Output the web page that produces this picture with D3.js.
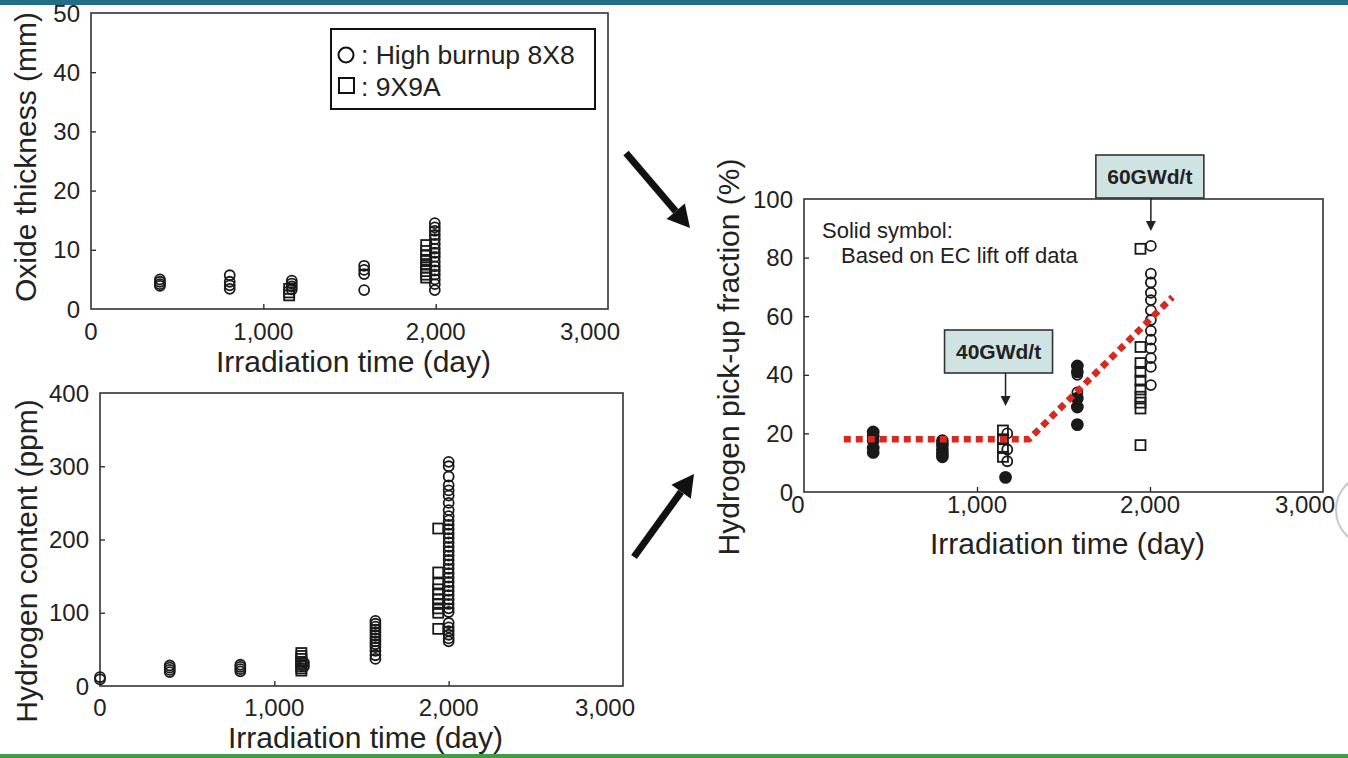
<!DOCTYPE html>
<html>
<head>
<meta charset="utf-8">
<title>Oxide thickness, hydrogen content and pick-up fraction</title>
<script src="https://cdnjs.cloudflare.com/ajax/libs/d3/7.8.5/d3.min.js"></script>
<style>
  body { margin: 0; background: #fff; }
  svg { display: block; font-family: "Liberation Sans", Arial, sans-serif; }
</style>
</head>
<body>
<script>
// ---- data ----
const xTicks = [0, 1000, 2000, 3000];
const oxideTicks = [0, 10, 20, 30, 40, 50];
const hydrogenTicks = [0, 100, 200, 300, 400];
const pickupTicks = [0, 20, 40, 60, 80, 100];

// [irradiation day, values]
const oxide8x8 = [
  [400, [5.0, 4.6, 4.2, 3.9]],
  [805, [5.7, 4.6, 4.0, 3.4]],
  [1165, [4.8, 4.3, 3.8, 3.3]],
  [1585, [7.3, 6.6, 5.9, 3.2]],
  [1995, [14.5, 13.8, 13.2, 12.5, 11.8, 11.0, 10.2, 9.5, 8.8, 8.0, 7.2, 6.5, 5.8, 5.0, 4.2, 3.2]]
];
const oxide9x9A = [
  [1150, [3.4, 2.8, 2.3]],
  [1945, [10.8, 9.8, 9.0, 8.3, 7.6, 7.0, 6.4, 5.8, 5.3]]
];

const hydrogen8x8 = [
  [0, [12, 9]],
  [400, [28, 25, 22, 19]],
  [805, [29, 26, 23, 20]],
  [1170, [32, 27]],
  [1580, [89, 85, 81, 77, 73, 69, 65, 61, 57, 53, 48, 42, 37]],
  [2000, [306, 300, 286, 274, 267, 260, 250, 240, 232, 226, 220, 214, 208, 202, 196, 190, 184, 178,
          172, 166, 160, 154, 148, 142, 136, 130, 124, 118, 112, 106, 101, 86, 80, 75, 70, 65, 61]]
];
const hydrogen9x9A = [
  [1155, [45, 41, 37, 33, 30, 27, 24, 21]],
  [1940, [215, 155, 140, 132, 125, 118, 112, 106, 100, 78]]
];

const pickupSolid = [
  [400, [20.5, 19, 17.5, 15, 13.5]],
  [800, [17.5, 16, 14.5, 13, 12]],
  [1165, [5]],
  [1580, [43, 41, 32, 29, 23]]
];
const pickup8x8 = [
  [1175, [20, 14.5, 10.5]],
  [1580, [40, 34]],
  [2005, [84, 74.5, 71.5, 68, 65.5, 62, 58.7, 55, 52, 49, 45.7, 42.7, 36.5]]
];
const pickup9x9A = [
  [1150, [21, 18, 15, 12]],
  [1945, [83, 49.5, 44, 41, 38, 35, 32.5, 30.5, 28.5, 16]]
];
const trendDays = [230, 1300, 2130];
const trendVals = [18, 18, 66.5];

const burnupDays = [1165, 2005];
const burnupLabels = ["40GWd/t", "60GWd/t"];

// ---- page ----
const W = 1348, H = 758;
const ink = "#222";
const svg = d3.select("body").append("svg")
  .attr("width", W).attr("height", H);

svg.append("rect").attr("width", W).attr("height", H).attr("fill", "#fff");
svg.append("rect").attr("width", W).attr("height", 5).attr("fill", "#236e87");
svg.append("rect").attr("y", H - 4).attr("width", W).attr("height", 4).attr("fill", "#3f9d48");

const flat = groups => groups.flatMap(([d, vs]) => vs.map(v => ({ d, v })));

function panel(p) {
  const x = d3.scaleLinear().domain([0, 3000]).range([p.left, p.right]);
  const y = d3.scaleLinear().domain([0, p.yMax]).range([p.bottom, p.top]);
  const g = svg.append("g");

  // inward ticks
  g.append("g").attr("transform", `translate(0,${p.bottom})`)
    .call(d3.axisTop(x).tickValues(xTicks.slice(1, -1)).tickSize(5).tickFormat(""))
    .call(a => a.select(".domain").remove())
    .selectAll("line").attr("stroke", ink).attr("stroke-width", 1.3);
  g.append("g").attr("transform", `translate(${p.left},0)`)
    .call(d3.axisRight(y).tickValues(p.yTicks.slice(1, -1)).tickSize(5).tickFormat(""))
    .call(a => a.select(".domain").remove())
    .selectAll("line").attr("stroke", ink).attr("stroke-width", 1.3);

  g.append("rect")
    .attr("x", p.left).attr("y", p.top)
    .attr("width", p.right - p.left).attr("height", p.bottom - p.top)
    .attr("fill", "none").attr("stroke", "#333").attr("stroke-width", 1.6);

  // last label sits a bit inside the right edge, as in the original
  g.selectAll(".xl").data(xTicks).enter().append("text")
    .attr("x", (d, i) => x(d) - (i === xTicks.length - 1 ? 18 : 0) - (p.zeroShift && i === 0 ? p.zeroShift : 0))
    .attr("y", p.bottom + p.xLabelGap)
    .attr("text-anchor", "middle").attr("font-size", 24).attr("fill", ink)
    .text(d3.format(","));
  g.selectAll(".yl").data(p.yTicks).enter().append("text")
    .attr("x", p.left - 11).attr("y", d => y(d) + 8.5)
    .attr("text-anchor", "end").attr("font-size", 24).attr("fill", ink)
    .text(d => d);

  g.append("text")
    .attr("x", (p.left + p.right) / 2 + 4).attr("y", p.xTitleY)
    .attr("text-anchor", "middle").attr("font-size", 30).attr("fill", ink)
    .text("Irradiation time (day)");
  g.append("text")
    .attr("transform", `translate(${p.yTitleX},${p.yTitleMid}) rotate(-90)`)
    .attr("text-anchor", "middle").attr("font-size", 30).attr("fill", ink)
    .text(p.yTitle);
  return { x, y, g };
}

function circles(pn, groups, r, filled) {
  pn.g.append("g").selectAll("circle").data(flat(groups)).enter().append("circle")
    .attr("cx", d => pn.x(d.d)).attr("cy", d => pn.y(d.v)).attr("r", r)
    .attr("fill", filled ? "#1a1a1a" : "none")
    .attr("stroke", "#1a1a1a").attr("stroke-width", 1.8);
}
function squares(pn, groups, s) {
  pn.g.append("g").selectAll("rect").data(flat(groups)).enter().append("rect")
    .attr("x", d => pn.x(d.d) - s / 2).attr("y", d => pn.y(d.v) - s / 2)
    .attr("width", s).attr("height", s)
    .attr("fill", "none").attr("stroke", "#1a1a1a").attr("stroke-width", 1.8);
}

// ---- top left: oxide thickness ----
const pOx = panel({
  left: 91, right: 608, top: 13, bottom: 309, yMax: 50, yTicks: oxideTicks,
  xLabelGap: 31, xTitleY: 372, yTitle: "Oxide thickness (mm)", yTitleX: 36, yTitleMid: 157
});
squares(pOx, oxide9x9A, 10);
circles(pOx, oxide8x8, 5, false);

const leg = svg.append("g");
leg.append("rect").attr("x", 331).attr("y", 29).attr("width", 264).attr("height", 80)
  .attr("fill", "#fff").attr("stroke", "#111").attr("stroke-width", 2);
leg.append("circle").attr("cx", 346).attr("cy", 55).attr("r", 7.5)
  .attr("fill", "none").attr("stroke", "#111").attr("stroke-width", 2);
leg.append("rect").attr("x", 339).attr("y", 78).attr("width", 15).attr("height", 15)
  .attr("fill", "none").attr("stroke", "#111").attr("stroke-width", 2);
leg.append("text").attr("x", 361).attr("y", 64).attr("font-size", 26.5).attr("fill", ink)
  .text(": High burnup 8X8");
leg.append("text").attr("x", 361).attr("y", 96).attr("font-size", 26.5).attr("fill", ink)
  .text(": 9X9A");

// ---- bottom left: hydrogen content ----
const pH = panel({
  left: 100, right: 623, top: 393, bottom: 686, yMax: 400, yTicks: hydrogenTicks,
  xLabelGap: 30, xTitleY: 748, yTitle: "Hydrogen content (ppm)", yTitleX: 37, yTitleMid: 561
});
squares(pH, hydrogen9x9A, 10);
circles(pH, hydrogen8x8, 5, false);

// ---- right: hydrogen pick-up fraction ----
const pP = panel({
  left: 804, right: 1323, top: 199, bottom: 492, yMax: 100, yTicks: pickupTicks,
  xLabelGap: 21, xTitleY: 554, yTitle: "Hydrogen pick-up fraction (%)", yTitleX: 739, yTitleMid: 357,
  zeroShift: 6
});
squares(pP, pickup9x9A, 10);
circles(pP, pickup8x8, 5, false);
circles(pP, pickupSolid, 5.5, true);

pP.g.append("path")
  .datum(d3.zip(trendDays, trendVals))
  .attr("d", d3.line().x(d => pP.x(d[0])).y(d => pP.y(d[1])))
  .attr("fill", "none").attr("stroke", "#d52a1f")
  .attr("stroke-width", 6.5).attr("stroke-dasharray", "7,5");

pP.g.append("text").attr("x", 822).attr("y", 238).attr("font-size", 22).attr("fill", ink)
  .text("Solid symbol:");
pP.g.append("text").attr("x", 841).attr("y", 263).attr("font-size", 22).attr("fill", ink)
  .text("Based on EC lift off data");

// burnup call-outs
const boxTops = [330, 155];
burnupDays.forEach((d, i) => {
  const cx = pP.x(d);
  const top = boxTops[i];
  const bx = i === 0 ? cx - 61 : cx - 55;
  pP.g.append("rect").attr("x", bx).attr("y", top).attr("width", 108).attr("height", 43)
    .attr("fill", "#cfe3e2").attr("stroke", "#333").attr("stroke-width", 1.6);
  pP.g.append("text").attr("x", bx + 54).attr("y", top + 29)
    .attr("text-anchor", "middle").attr("font-size", 21).attr("font-weight", "bold")
    .attr("fill", ink).text(burnupLabels[i]);
  const y0 = top + 43, y1 = top + 76;
  pP.g.append("line").attr("x1", cx).attr("x2", cx).attr("y1", y0).attr("y2", y1 - 8)
    .attr("stroke", ink).attr("stroke-width", 1.5);
  pP.g.append("path").attr("d", `M${cx - 5},${y1 - 10}L${cx + 5},${y1 - 10}L${cx},${y1}Z`)
    .attr("fill", ink);
});

// faint round decoration at the right edge
svg.append("circle").attr("cx", 1372).attr("cy", 510).attr("r", 36)
  .attr("fill", "#fff").attr("stroke", "#c8c8c8").attr("stroke-width", 2);

// ---- big connecting arrows ----
function bigArrow(x1, y1, x2, y2) {
  const a = Math.atan2(y2 - y1, x2 - x1);
  const len = 22, hw = 12;
  const bx = x2 - len * Math.cos(a), by = y2 - len * Math.sin(a);
  svg.append("line").attr("x1", x1).attr("y1", y1).attr("x2", bx).attr("y2", by)
    .attr("stroke", "#111").attr("stroke-width", 7);
  const nx = -Math.sin(a) * hw, ny = Math.cos(a) * hw;
  svg.append("path")
    .attr("d", `M${x2},${y2}L${bx + nx},${by + ny}L${bx - nx},${by - ny}Z`)
    .attr("fill", "#111");
}
bigArrow(626, 153, 690, 228);
bigArrow(634, 557, 694, 474);
</script>
</body>
</html>
